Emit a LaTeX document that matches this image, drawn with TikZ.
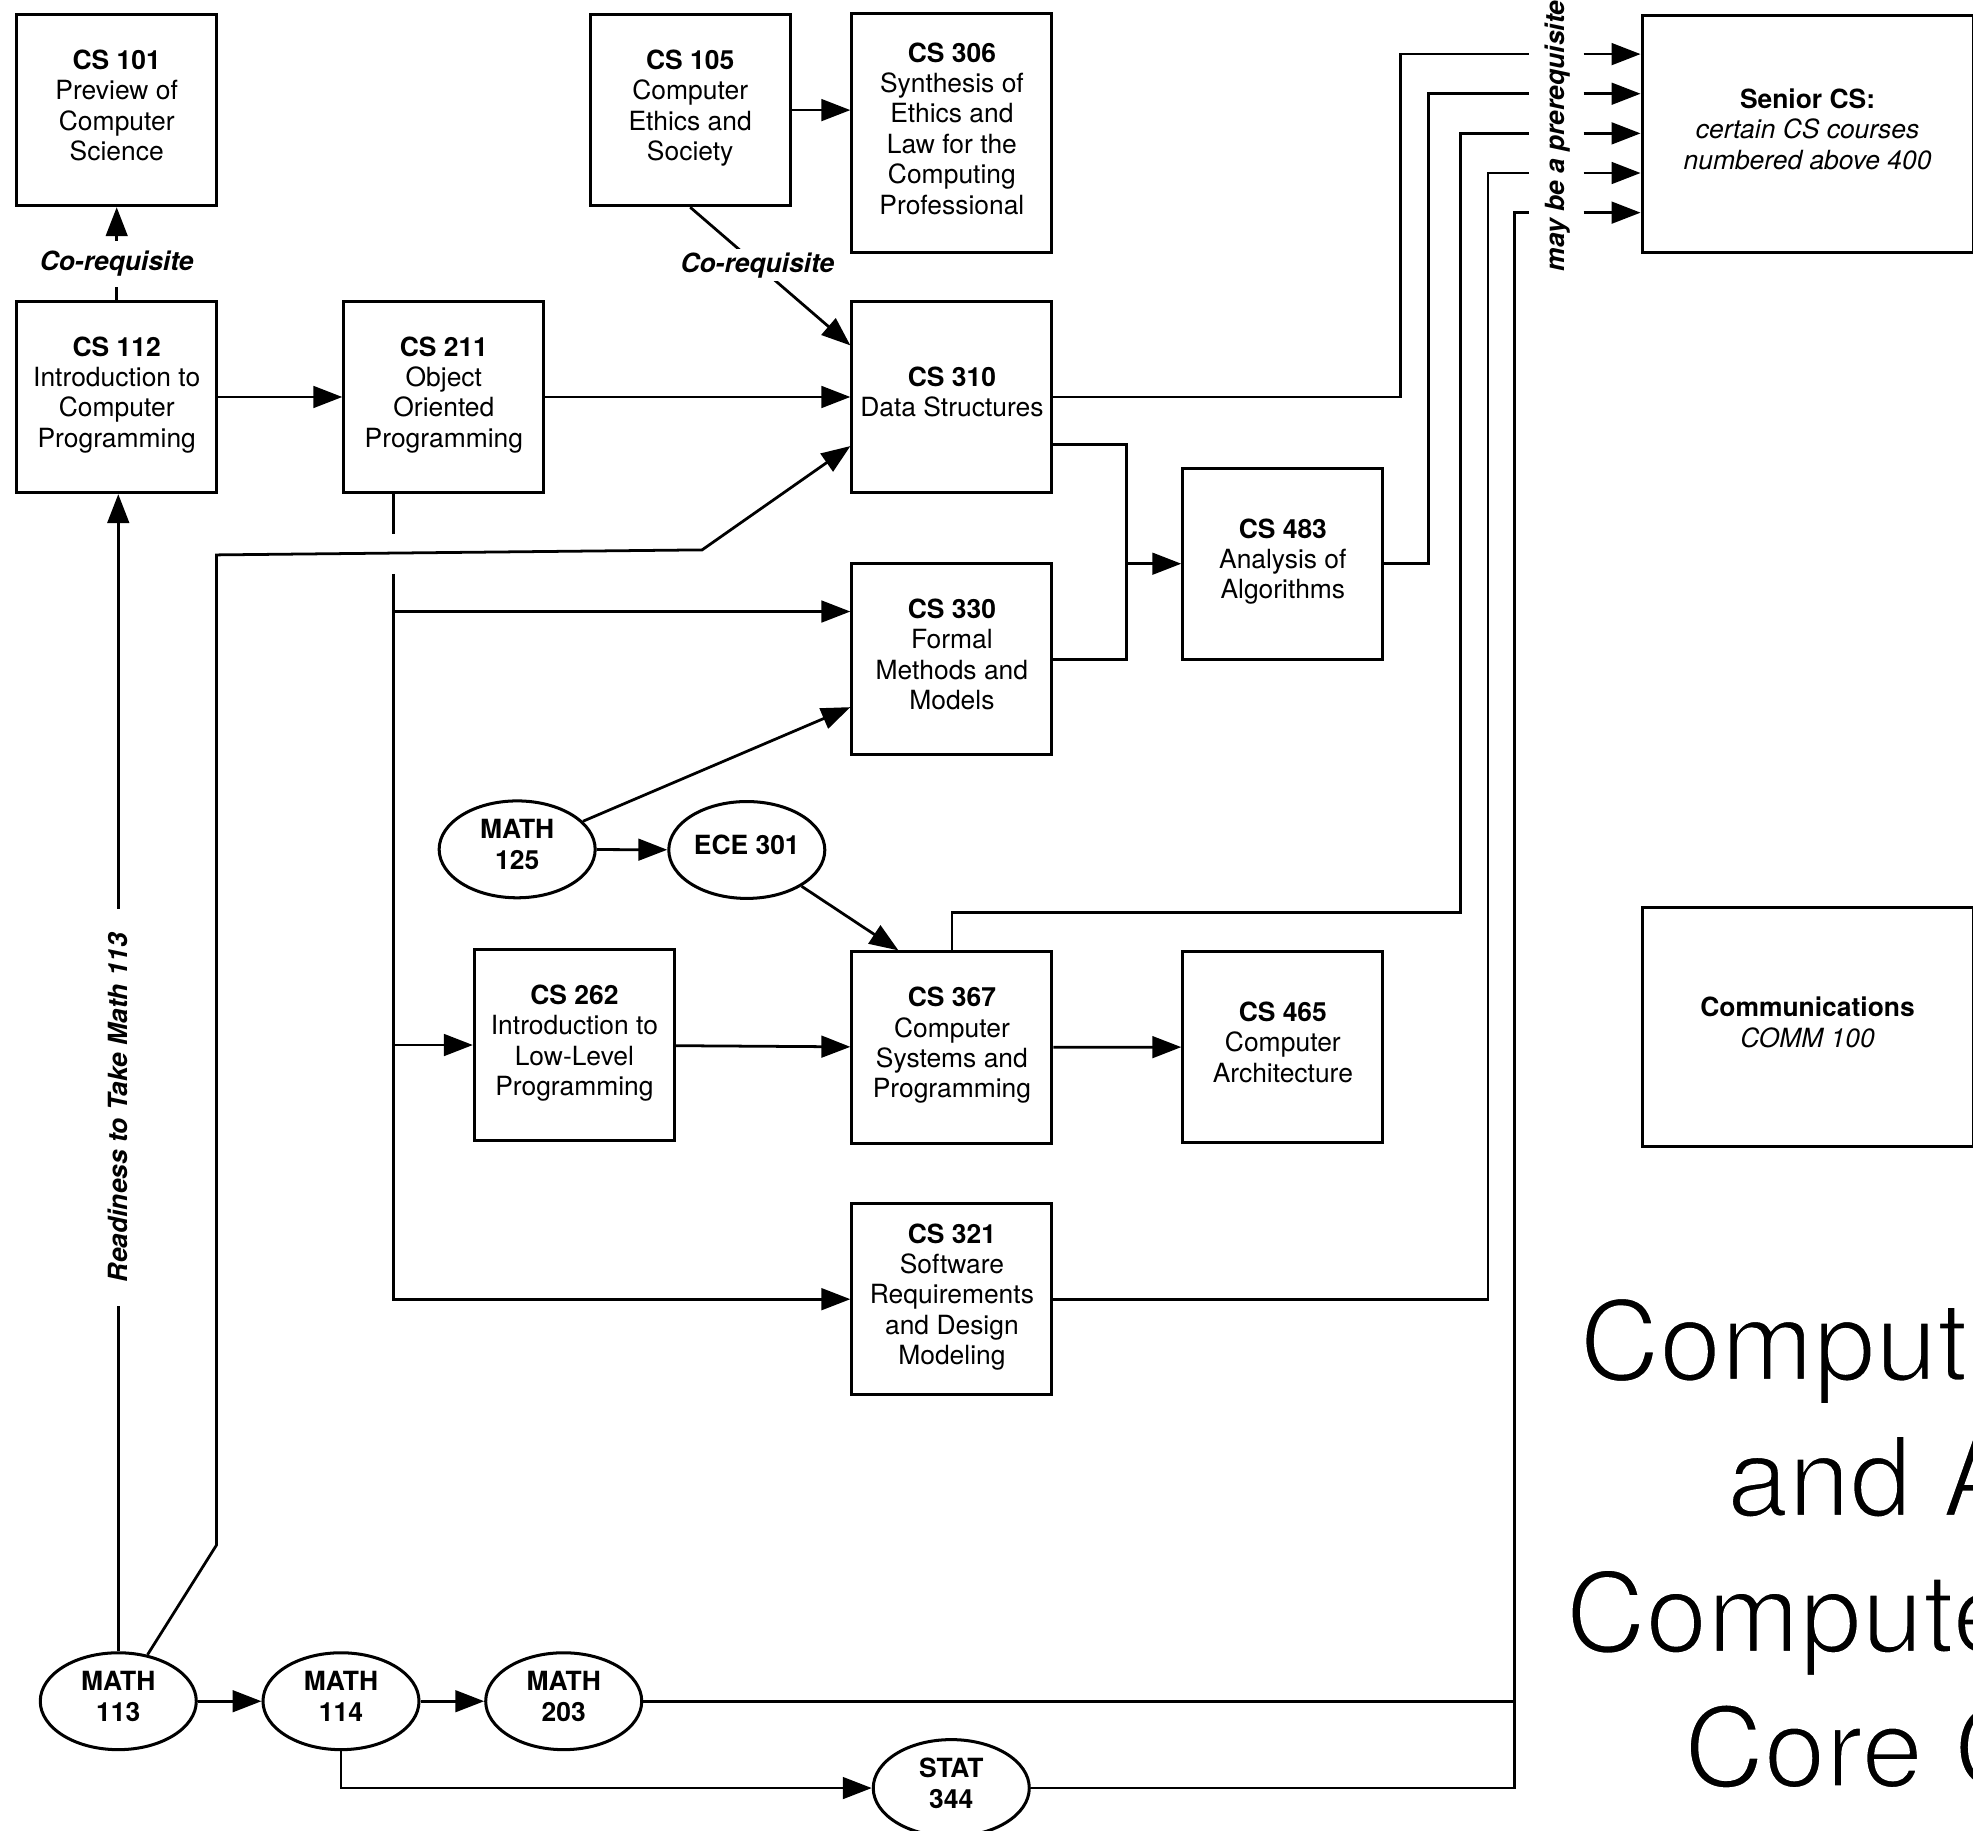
\documentclass[tikz,border=0pt]{standalone}
\usepackage{fontspec}
\setmainfont{TeX Gyre Heros}
\usetikzlibrary{arrows.meta,shapes.geometric,calc}
\newcommand{\thintext}[1]{\special{pdf:literal direct q 2 Tr 1 1 1 RG 1.1 w}#1\special{pdf:literal direct Q}}
\begin{document}
\begin{tikzpicture}[x=0.5pt,y=-0.5pt,
  font=\fontsize{10.5}{12.1}\selectfont,
  box/.style={draw, line width=1.2pt, rectangle, minimum width=79.5pt, minimum height=76pt, inner sep=1pt, align=center, execute at end node={\rule[-4pt]{0pt}{4pt}}},
  oval/.style={draw, line width=1.2pt, ellipse, minimum width=62pt, minimum height=38.5pt, inner sep=0pt, align=center, font=\fontsize{10.5}{12.1}\selectfont\bfseries, execute at end node={\rule[-4pt]{0pt}{4pt}}},
  line/.style={line width=1.1pt},
  conn/.style={line width=1.1pt, -{Triangle[length=11.5pt,width=8.6pt]}},
  lab/.style={font=\fontsize{10.5}{12.1}\selectfont\bfseries\itshape, fill=white, inner xsep=1pt},
  ttl/.style={font=\fontsize{44}{54}\selectfont, anchor=base west, inner sep=0pt}
]
\useasboundingbox (0,0) rectangle (1568,1455);

% course boxes
\node[box] (cs101) at (92.75,87.5) {\textbf{CS 101}\\Preview of\\Computer\\Science};
\node[box] (cs112) at (92.75,315.5) {\textbf{CS 112}\\Introduction to\\Computer\\Programming};
\node[box] (cs211) at (352.75,315.5) {\textbf{CS 211}\\Object\\Oriented\\Programming};
\node[box] (cs105) at (548.5,87.5) {\textbf{CS 105}\\Computer\\Ethics and\\Society};
\node[box, minimum height=95pt] (cs306) at (756.5,106) {\textbf{CS 306}\\Synthesis of\\Ethics and\\Law for the\\Computing\\Professional};
\node[box] (cs310) at (756.5,315.5) {\textbf{CS 310}\\Data Structures};
\node[box] (cs330) at (756.5,524) {\textbf{CS 330}\\Formal\\Methods and\\Models};
\node[box] (cs483) at (1019.5,448) {\textbf{CS 483}\\Analysis of\\Algorithms};
\node[box] (cs262) at (456.5,830.5) {\textbf{CS 262}\\Introduction to\\Low-Level\\Programming};
\node[box] (cs367) at (756.5,832.5) {\textbf{CS 367}\\Computer\\Systems and\\Programming};
\node[box] (cs465) at (1019.5,832) {\textbf{CS 465}\\Computer\\Architecture};
\node[box] (cs321) at (756.5,1032.5) {\textbf{CS 321}\\Software\\Requirements\\and Design\\Modeling};
\node[box, minimum width=131.5pt, minimum height=94.5pt] (senior) at (1436.5,106.5) {\textbf{Senior CS:}\\\textit{certain CS courses}\\\textit{numbered above 400}};
\node[box, minimum width=131.5pt, minimum height=95pt] (comm) at (1436.5,816.5) {\textbf{Communications}\\\textit{COMM 100}};

% ovals
\node[oval] (m125) at (411,675) {MATH\\125};
\node[oval] (ece301) at (593.5,675.5) {ECE 301};
\node[oval] (m113) at (94,1352) {MATH\\113};
\node[oval] (m114) at (271,1352) {MATH\\114};
\node[oval] (m203) at (448,1352) {MATH\\203};
\node[oval] (stat344) at (756,1421) {STAT\\344};

% helper coordinates
\coordinate (a1) at (172,1228);
\coordinate (a2) at (172,441);
\coordinate (a3) at (558,437);
\coordinate (v1) at (313,424);
\coordinate (v2) at (313,456);
\coordinate (v3) at (313,1032.5);
\coordinate (b330) at (313,486);
\coordinate (b262) at (313,830.5);
\coordinate (j1) at (895.5,353.5);
\coordinate (x1) at (1113,0);
\coordinate (x2) at (1135,0);
\coordinate (x3) at (1160.5,0);
\coordinate (x4) at (1182.5,0);
\coordinate (x5) at (1203.5,0);
\coordinate (s1) at (1215,43);
\coordinate (s2) at (1215,74.5);
\coordinate (s3) at (1215,106);
\coordinate (s4) at (1215,137.5);
\coordinate (s5) at (1215,169);
\coordinate (r1) at (1258.5,43);
\coordinate (r2) at (1258.5,74.5);
\coordinate (r3) at (1258.5,106);
\coordinate (r4) at (1258.5,137.5);
\coordinate (r5) at (1258.5,169);

% connectors
\draw[conn] (cs112) -- node[lab, pos=0.387, inner ysep=4pt] (co1) {Co-requisite} (cs101);
\draw[conn] (cs112) -- (cs211);
\draw[conn] (cs211) -- (cs310);
\draw[conn] (cs105.east) -- (cs105.east -| cs306.west);
\draw[conn] (cs105.south) -- node[lab, pos=0.42, inner ysep=1.3pt] (co2) {Co-requisite} ($(cs310.west)+(0,-41)$);
\draw[conn] (m113.north) -- node[lab, pos=0.47, rotate=90, inner xsep=9.5pt, inner ysep=1pt] (ready) {Readiness to Take Math 113} (m113.north |- cs112.south);
\draw[conn] (m113) -- (a1) -- (a2) -- (a3) -- ($(cs310.west)+(0,39)$);
\draw[line] (cs211.south -| v1) -- (v1);
\draw[conn] (v2) -- (v3) -- (cs321.west);
\draw[conn] (b330) -- (b330 -| cs330.west);
\draw[conn] (b262) -- (cs262.west);
\draw[line] ($(cs310.east)+(0,38)$) -- (j1) -- (j1 |- cs330.east) -- (cs330.east);
\draw[conn] (j1 |- cs483.west) -- (cs483.west);
\draw[conn] (m125) -- ($(cs330.west)+(0,38)$);
\draw[conn] (m125) -- (ece301);
\draw[conn] (ece301) -- ($(cs367.north)+(-42.5,0)$);
\draw[conn] (cs262) -- (cs367);
\draw[conn] (cs367) -- (cs465);
\draw[conn] (m113) -- (m114);
\draw[conn] (m114) -- (m203);
\draw[conn] (m114.south) -- (m114.south |- stat344.west) -- (stat344.west);

% to senior CS
\draw[line] (cs310.east) -| (s1 -| x1) -- (s1);
\draw[line] (cs483.east) -| (s2 -| x2) -- (s2);
\draw[line] (cs367.north) -- ++(0,-30) -| (s3 -| x3) -- (s3);
\draw[line] (cs321.east) -| (s4 -| x4) -- (s4);
\draw[line] (m203.east) -| (s5 -| x5) -- (s5);
\draw[line] (stat344.east) -- (stat344.east -| x5) -- (m203.east -| x5);
\foreach \i in {1,...,5} {\draw[conn] (r\i) -- (r\i -| senior.west);}
\node[font=\fontsize{10.5}{12.1}\selectfont\bfseries\itshape, rotate=90, inner sep=0pt] (maybe) at (1238,108) {may be a prerequisite};

% title (cut by the page edge)
\node[ttl] (ttl1) at (1255,1097) {\thintext{Comput}};
\node[ttl] (ttl2) at (1372,1205) {\thintext{and A}};
\node[ttl] (ttl3) at (1244,1313) {\thintext{Compute}};
\node[ttl] (ttl4) at (1338,1420) {\thintext{Core C}};
\end{tikzpicture}
\end{document}
